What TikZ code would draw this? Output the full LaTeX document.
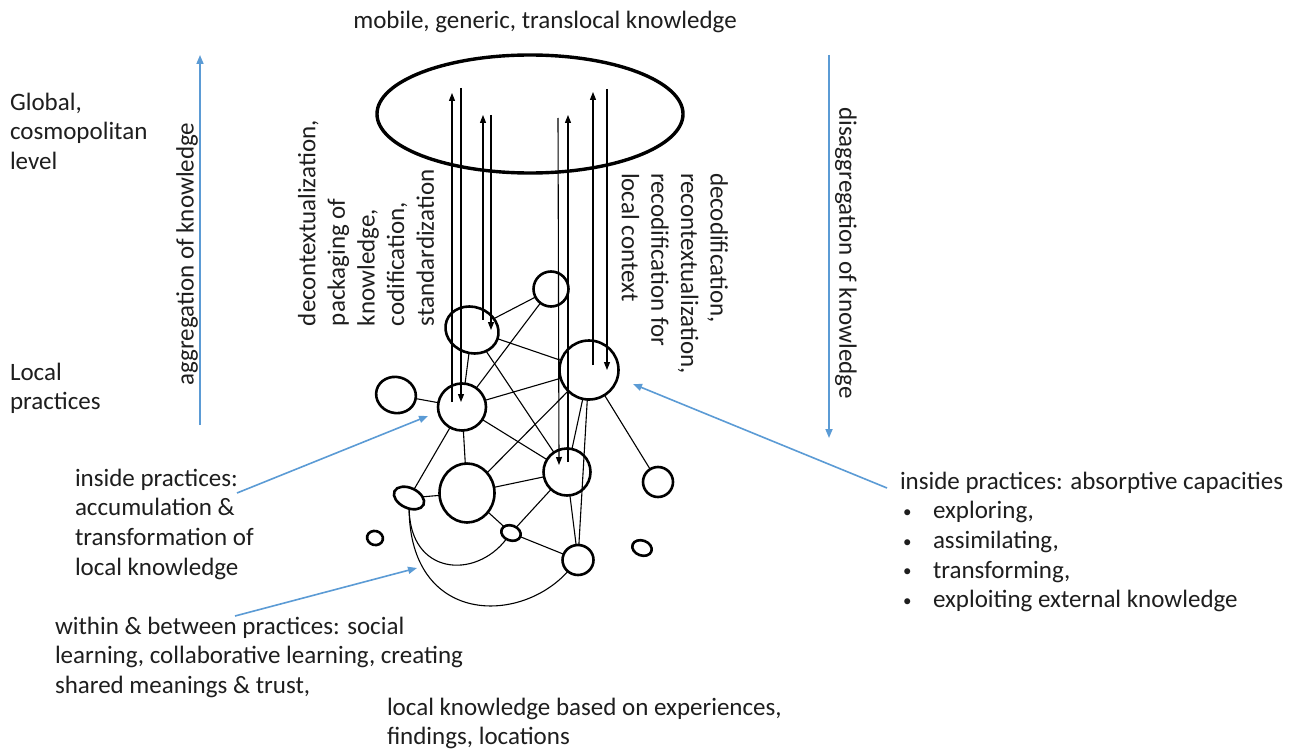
\documentclass[tikz,border=0pt]{standalone}
\usepackage{fontspec}
\setmainfont{Carlito}
\usetikzlibrary{arrows.meta,shapes.geometric}
\definecolor{bluec}{RGB}{91,155,213}
\definecolor{txtc}{RGB}{30,30,30}
\newcommand{\mybul}{\hspace*{3pt}\makebox[30pt][l]{\raisebox{1.5pt}{\fontsize{17}{17}\selectfont\textbullet}}}
\begin{document}
\begin{tikzpicture}[x=1pt,y=-1pt,
  every node/.style={inner sep=0pt, outer sep=0pt},
  txt/.style={font=\fontsize{25}{29.6}\selectfont, align=left, text=txtc},
  pc/.style={draw, ellipse, line width=2.6pt},
  edge/.style={line width=1.1pt},
  blk/.style={line width=1.1pt, -{Triangle[length=8pt,width=6pt]}},
  blu/.style={draw=bluec, line width=1.6pt, -{Triangle[length=9pt,width=7pt]}}]
\fill[white] (0,0) rectangle (1300,749);
\useasboundingbox (0,0) rectangle (1300,749);

% big ellipse
\node[draw, ellipse, line width=3.4pt, minimum width=306pt, minimum height=118pt] (G0) at (530,114) {};

% practice nodes
\node[pc, minimum width=35pt, minimum height=35pt] (A) at (551,289) {};
\node[pc, rotate=-20, minimum width=54pt, minimum height=46pt] (B) at (472,330) {};
\node[pc, minimum width=59pt, minimum height=59pt] (C) at (589,370) {};
\node[pc, rotate=-15, minimum width=40pt, minimum height=36pt] (D) at (396,395) {};
\node[pc, minimum width=48pt, minimum height=47pt] (E) at (462,407) {};
\node[pc, minimum width=47pt, minimum height=47pt] (F) at (567,472) {};
\node[pc, minimum width=30pt, minimum height=30pt] (G) at (658,482) {};
\node[pc, minimum width=55pt, minimum height=59pt] (H) at (467,493) {};
\node[pc, rotate=-25, minimum width=32pt, minimum height=20pt] (I) at (409,498) {};
\node[pc, rotate=-15, minimum width=16pt, minimum height=14pt] (J) at (375,538) {};
\node[pc, rotate=-20, minimum width=20pt, minimum height=15pt] (K) at (511,533) {};
\node[pc, minimum width=31pt, minimum height=30pt] (L) at (578,560) {};
\node[pc, rotate=-20, minimum width=20pt, minimum height=15pt] (M) at (642,548) {};

% edges
\draw[edge] (A) -- (B);
\draw[edge] (A) -- (E);
\draw[edge] (B) -- (C);
\draw[edge] (B) -- (E);
\draw[edge] (B) -- (F);
\draw[edge] (D) -- (E);
\draw[edge] (E) -- (C);
\draw[edge] (E) -- (F);
\draw[edge] (E) -- (H);
\draw[edge] (E) -- (I);
\draw[edge] (C) -- (H);
\draw[edge] (C) -- (F);
\draw[edge] (C) -- (G);
\draw[edge] (C) -- (L);
\draw[edge] (F) -- (H);
\draw[edge] (F) -- (K);
\draw[edge] (F) -- (L);
\draw[edge] (I) -- (H);
\draw[edge] (H) -- (K);
\draw[edge] (K) -- (L);
\draw[edge] (I) .. controls (410,575) and (475,580) .. (K);
\draw[edge] (I) .. controls (410,625) and (520,625) .. (L);

% vertical knowledge arrows
\coordinate (p1a) at (452,402); \coordinate (p1b) at (452,93);
\coordinate (p1c) at (461,88);  \coordinate (p1d) at (461,402);
\coordinate (p2a) at (483,320); \coordinate (p2b) at (483,115);
\coordinate (p2c) at (491,115); \coordinate (p2d) at (491,330);
\coordinate (p3a) at (558,118); \coordinate (p3b) at (559,465);
\coordinate (p3c) at (568,462); \coordinate (p3d) at (568,115);
\coordinate (p4a) at (593,365); \coordinate (p4b) at (593,92);
\coordinate (p4c) at (607,89);  \coordinate (p4d) at (607,370);
\draw[blk] (p1a) -- (p1b);
\draw[blk] (p1c) -- (p1d);
\draw[blk] (p2a) -- (p2b);
\draw[blk] (p2c) -- (p2d);
\draw[blk] (p3a) -- (p3b);
\draw[blk] (p3c) -- (p3d);
\draw[blk] (p4a) -- (p4b);
\draw[blk] (p4c) -- (p4d);

% blue arrows
\coordinate (agb) at (200,425); \coordinate (agt) at (200,55);
\coordinate (dgt) at (829,55);  \coordinate (dgb) at (829,438);
\coordinate (b1s) at (237,493); \coordinate (b1e) at (428,416);
\coordinate (b2s) at (235,616); \coordinate (b2e) at (417,568);
\coordinate (b3s) at (887,488); \coordinate (b3e) at (633,384);
\draw[blu] (agb) -- (agt);
\draw[blu] (dgt) -- (dgb);
\draw[blu] (b1s) -- (b1e);
\draw[blu] (b2s) -- (b2e);
\draw[blu] (b3s) -- (b3e);

% texts
\node[txt, anchor=base] (ttop) at (545,29) {mobile, generic, translocal knowledge};
\node[txt, anchor=north west] (tglob) at (10,93) {Global,\\cosmopolitan\\level};
\node[txt, anchor=north west] (tloc) at (10,363) {Local\\practices};
\node[txt, rotate=90] (tagg) at (187,254) {aggregation of knowledge};
\node[txt, rotate=-90] (tdis) at (846,253) {disaggregation of knowledge};
\node[txt, rotate=90, anchor=north west] (tdec) at (298,326) {decontextualization,\\packaging of\\knowledge,\\codification,\\standardization};
\node[txt, rotate=-90, anchor=north west] (trec) at (728,173) {decodification,\\recontextualization,\\recodification for\\local context};
\node[txt, anchor=north west] (tins) at (75,469) {inside practices:\\accumulation \&\\transformation of\\local knowledge};
\node[txt, anchor=north west] (twit) at (55,617) {within \& between practices: social\\learning, collaborative learning, creating\\shared meanings \& trust,};
\node[txt, anchor=north west] (tlk) at (387,698) {local knowledge based on experiences,\\findings, locations};
\node[txt, anchor=north west] (tabs) at (900,472) {inside practices: absorptive capacities\\
\mybul exploring,\\
\mybul assimilating,\\
\mybul transforming,\\
\mybul exploiting external knowledge};
\end{tikzpicture}
\end{document}
